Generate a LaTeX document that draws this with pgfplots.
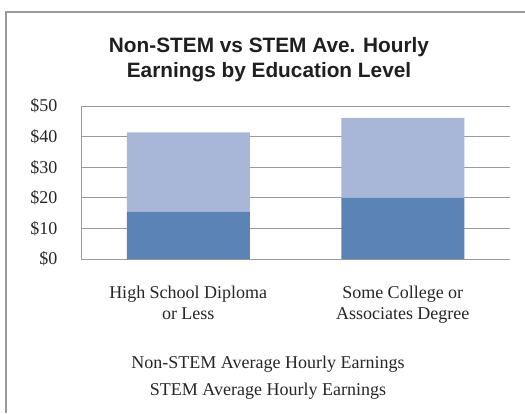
\documentclass[border=0pt]{standalone}
\usepackage{pgfplots}
\pgfplotsset{compat=1.18}
\usepackage{fontspec}
\setmainfont{Liberation Serif}
\newfontfamily\titlefont{Liberation Sans}
\definecolor{darkbar}{HTML}{5B83B6}
\definecolor{lightbar}{HTML}{A8B7D8}
\definecolor{gridgray}{HTML}{9A9A9A}
\begin{document}
\begin{tikzpicture}
\useasboundingbox (0pt,0pt) rectangle (525pt,413pt);
\draw[gridgray, line width=2pt] (6pt,0pt) -- (6pt,401pt) -- (525pt,401pt);
\node[align=center, font=\titlefont\bfseries\fontsize{20.8}{25}\selectfont, text=black!88] at (269pt,353.5pt) {Non-STEM vs STEM Ave. Hourly\\Earnings by Education Level};
\begin{axis}[
  at={(81pt,154pt)}, anchor=south west,
  scale only axis, width=429pt, height=153pt,
  ybar stacked, bar width=123pt,
  xmin=-0.5, xmax=1.5, ymin=0, ymax=50,
  xtick={0,1}, xticklabels={High School Diploma\\or Less, Some College or\\Associates Degree},
  xticklabel style={align=center, font=\fontsize{18}{21}\selectfont, text=black!85, yshift=-23pt},
  ytick={0,10,20,30,40,50},
  yticklabel={\$\pgfmathprintnumber{\tick}},
  yticklabel style={font=\fontsize{18}{20}\selectfont, text=black!85, xshift=-20pt},
  /pgf/number format/assume math mode=true,
  major tick length=0pt,
  axis x line*=bottom, axis y line*=left,
  axis line style={gridgray, line width=1pt},
  ymajorgrids, grid style={gridgray, line width=1pt},
  legend style={at={(0.436,-0.765)}, anchor=center, draw=none, fill=none, font=\fontsize{18}{20}\selectfont, text=black!85, row sep=9pt, legend cell align=center},
  legend image code/.code={\path (0,0);},
  clip=false,
]
\addplot[fill=darkbar, draw=none] coordinates {(0,15.4) (1,20.0)};
\addplot[fill=lightbar, draw=none] coordinates {(0,26.0) (1,26.1)};
\legend{Non-STEM Average Hourly Earnings, STEM Average Hourly Earnings}
\end{axis}
\end{tikzpicture}
\end{document}
